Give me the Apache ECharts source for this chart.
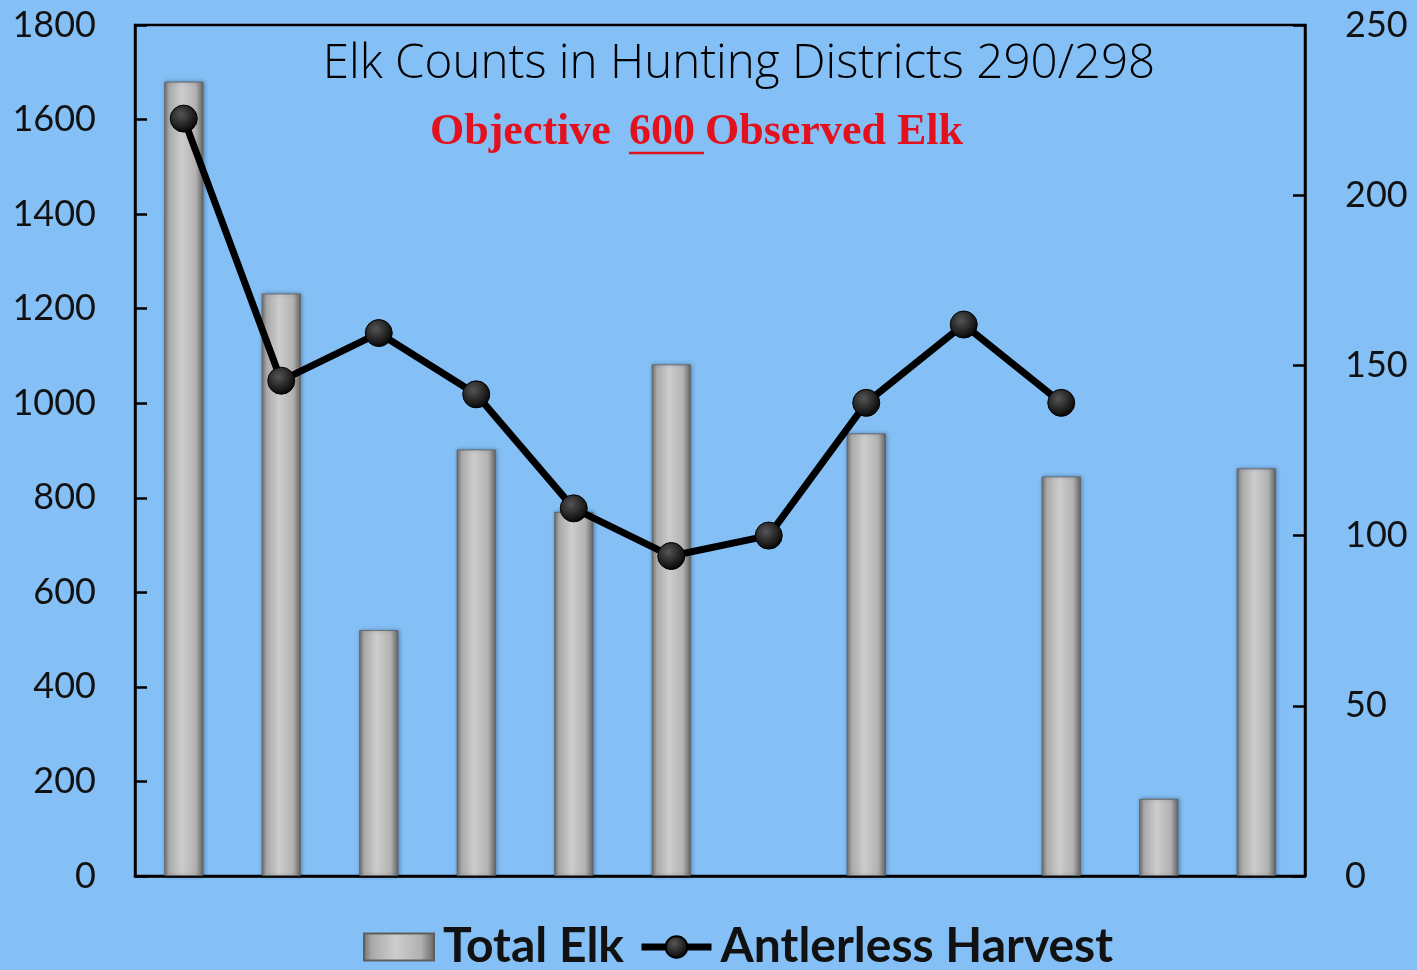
<!DOCTYPE html>
<html>
<head>
<meta charset="utf-8">
<script src="https://cdn.jsdelivr.net/npm/echarts@6/dist/echarts.min.js"></script>
<style>
  html, body { margin: 0; padding: 0; background: #84bff6; }
  #chart { width: 1417px; height: 970px; }
</style>
</head>
<body>
<div id="chart"></div>
<script>
// Survey seasons (no axis labels are shown)
const seasons = ['S1', 'S2', 'S3', 'S4', 'S5', 'S6', 'S7', 'S8', 'S9', 'S10', 'S11', 'S12'];
// Total elk observed per survey (left axis)
const totalElk = [1680, 1232, 520, 902, 770, 1082, null, 936, null, 845, 163, 862];
// Antlerless harvest (right axis)
const antlerlessHarvest = [222.5, 145.5, 159.5, 141.5, 108, 94, 100, 139, 162, 139, null, null];
// Axis ticks
const leftTicks = { min: 0, max: 1800, interval: 200 };
const rightTicks = { min: 0, max: 250, interval: 50 };

const chart = echarts.init(document.getElementById('chart'));

const barFill = new echarts.graphic.LinearGradient(0, 0, 1, 0, [
  { offset: 0, color: '#6f6f6f' },
  { offset: 0.12, color: '#a9a9a9' },
  { offset: 0.45, color: '#cdcdcd' },
  { offset: 0.8, color: '#b2b2b2' },
  { offset: 1, color: '#666666' }
]);
const dotFill = new echarts.graphic.RadialGradient(0.4, 0.35, 0.7, [
  { offset: 0, color: '#555555' },
  { offset: 1, color: '#000000' }
]);

const axisFont = { fontFamily: 'Lato', fontSize: 36, color: '#111111' };
const subtitleFont = { fontFamily: 'Liberation Serif', fontWeight: 'bold', fontSize: 44, fill: '#e3101e' };

chart.setOption({
  backgroundColor: '#84bff6',
  animation: false,
  title: {
    text: 'Elk Counts in Hunting Districts 290/298',
    left: 734, top: 35, textAlign: 'center',
    textStyle: { fontFamily: 'Open Sans', fontWeight: 300, fontSize: 47.5, color: '#000000' }
  },
  graphic: [
    // subtitle with the objective figure underlined
    { type: 'text', left: 430, top: 111, style: Object.assign({ text: 'Objective' }, subtitleFont) },
    { type: 'text', left: 629, top: 111, style: Object.assign({ text: '600' }, subtitleFont) },
    { type: 'text', left: 705, top: 111, style: Object.assign({ text: 'Observed Elk' }, subtitleFont) },
    { type: 'line', shape: { x1: 629, y1: 153, x2: 704, y2: 153 }, style: { stroke: '#e3101e', lineWidth: 2.5 } }
  ],
  legend: {
    bottom: -6, left: 358,
    itemWidth: 70, itemHeight: 27, itemGap: 14,
    textStyle: { fontFamily: 'Lato', fontWeight: 'bold', fontSize: 48, color: '#111111', padding: [0, 0, 0, 4] },
    data: [
      { name: 'Total Elk', icon: 'rect' },
      { name: 'Antlerless Harvest', lineStyle: { width: 7, color: '#000000' } }
    ]
  },
  grid: {
    left: 135, right: 112, top: 25, bottom: 94,
    show: true, borderColor: '#000000', borderWidth: 2.5, backgroundColor: 'transparent'
  },
  xAxis: {
    type: 'category',
    data: seasons,
    axisLine: { lineStyle: { color: '#000000', width: 2.5 } },
    axisTick: { show: false },
    axisLabel: { show: false }
  },
  yAxis: [
    {
      type: 'value', position: 'left',
      min: leftTicks.min, max: leftTicks.max, interval: leftTicks.interval,
      splitLine: { show: false },
      axisLine: { show: true, lineStyle: { color: '#000000', width: 2.5 } },
      axisTick: { show: true, inside: true, length: 12, lineStyle: { color: '#000000', width: 2.5 } },
      axisLabel: Object.assign({ margin: 39, formatter: v => String(v) }, axisFont)
    },
    {
      type: 'value', position: 'right',
      min: rightTicks.min, max: rightTicks.max, interval: rightTicks.interval,
      splitLine: { show: false },
      axisLine: { show: true, lineStyle: { color: '#000000', width: 2.5 } },
      axisTick: { show: true, inside: true, length: 12, lineStyle: { color: '#000000', width: 2.5 } },
      axisLabel: Object.assign({ margin: 40, formatter: v => String(v) }, axisFont)
    }
  ],
  series: [
    {
      name: 'Total Elk',
      type: 'bar',
      yAxisIndex: 0,
      barWidth: 39,
      data: totalElk,
      itemStyle: {
        color: barFill,
        borderColor: '#5e5e5e', borderWidth: 0.8,
        shadowColor: 'rgba(0,0,0,0.35)', shadowBlur: 4, shadowOffsetX: 1
      }
    },
    {
      name: 'Antlerless Harvest',
      type: 'line',
      yAxisIndex: 1,
      data: antlerlessHarvest,
      connectNulls: false,
      symbol: 'circle',
      symbolSize: 27,
      lineStyle: { color: '#000000', width: 7 },
      itemStyle: { color: dotFill, borderColor: '#000000', borderWidth: 1 }
    }
  ]
});
</script>
</body>
</html>
